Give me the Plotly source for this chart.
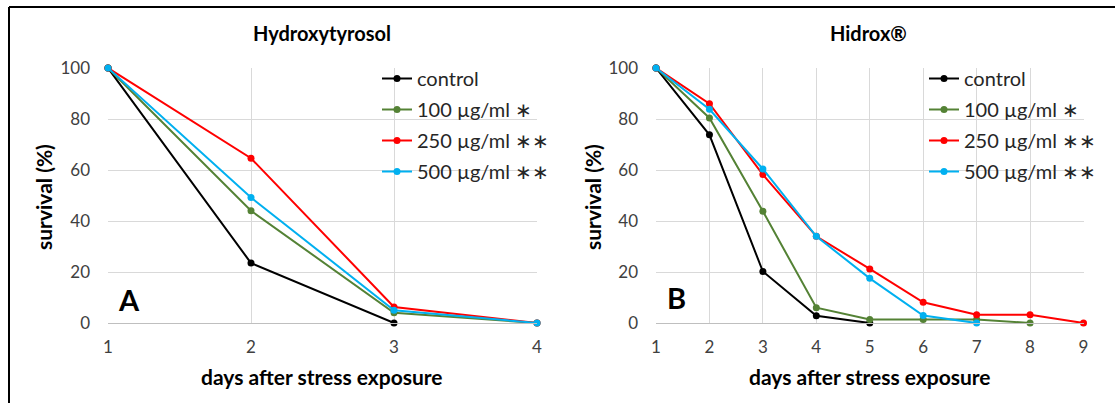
import plotly.graph_objects as go

# ---- data ----
series_names = ["control", "100 µg/ml\u00a0∗", "250 µg/ml\u00a0∗∗", "500 µg/ml\u00a0∗∗"]
series_colors = ["#000000", "#548235", "#ff0000", "#00b0f0"]

# Panel A: Hydroxytyrosol
a_days_control = [1, 2, 3]
a_control = [100, 23.5, 0]
a_days = [1, 2, 3, 4]
a_100 = [100, 44, 4, 0]
a_250 = [100, 64.6, 6.3, 0]
a_500 = [100, 49.2, 5, 0]

# Panel B: Hidrox
b_days_control = [1, 2, 3, 4, 5]
b_control = [100, 73.8, 20.2, 2.8, 0]
b_days_100 = [1, 2, 3, 4, 5, 6, 7, 8]
b_100 = [100, 80.4, 43.8, 6, 1.4, 1.4, 1.4, 0]
b_days_250 = [1, 2, 3, 4, 5, 6, 7, 8, 9]
b_250 = [100, 86, 58.2, 34, 21.2, 8.1, 3.2, 3.2, 0]
b_days_500 = [1, 2, 3, 4, 5, 6, 7]
b_500 = [100, 83.8, 60.4, 34, 17.5, 2.9, 0]

x_ticks_a = [1, 2, 3, 4]
x_ticks_b = [1, 2, 3, 4, 5, 6, 7, 8, 9]
y_ticks = [0, 20, 40, 60, 80, 100]

FONT = "Lato"
W, H = 1115, 403

fig = go.Figure()

panel_a = [(a_days_control, a_control), (a_days, a_100), (a_days, a_250), (a_days, a_500)]
panel_b = [(b_days_control, b_control), (b_days_100, b_100), (b_days_250, b_250), (b_days_500, b_500)]

for i, (xs, ys) in enumerate(panel_a):
    fig.add_trace(go.Scatter(
        x=xs, y=ys, mode="lines+markers", name=series_names[i],
        line=dict(color=series_colors[i], width=2),
        marker=dict(color=series_colors[i], size=7),
        xaxis="x", yaxis="y", legend="legend", legendgroup="a%d" % i,
        cliponaxis=False,
    ))
for i, (xs, ys) in enumerate(panel_b):
    fig.add_trace(go.Scatter(
        x=xs, y=ys, mode="lines+markers", name=series_names[i],
        line=dict(color=series_colors[i], width=2),
        marker=dict(color=series_colors[i], size=7),
        xaxis="x2", yaxis="y2", legend="legend2", legendgroup="b%d" % i,
        cliponaxis=False,
    ))

def px_x(p):
    return p / W

def px_y(p):
    return 1 - p / H

ydom = [px_y(323), px_y(68)]
axis_common = dict(
    showgrid=True, gridcolor="#d9d9d9", gridwidth=1,
    zeroline=False, automargin=False, ticks="",
    tickfont=dict(family=FONT, size=17, color="#404040"),
    fixedrange=True,
)

legend_font = dict(family=FONT, size=20, color="#262626")

fig.update_layout(
    width=W, height=H,
    margin=dict(l=0, r=0, t=0, b=0),
    paper_bgcolor="white", plot_bgcolor="white",
    font=dict(family=FONT),
    xaxis=dict(domain=[px_x(108), px_x(537)], range=[1, 4], tickvals=x_ticks_a,
               showline=True, linecolor="#bfbfbf", linewidth=1, ticklabelstandoff=9,
               anchor="y", **axis_common),
    yaxis=dict(domain=ydom, range=[0, 100], tickvals=y_ticks, showline=False,
               ticklabelstandoff=17, anchor="x", **axis_common),
    xaxis2=dict(domain=[px_x(656), px_x(1083.5)], range=[1, 9], tickvals=x_ticks_b,
                showline=True, linecolor="#bfbfbf", linewidth=1, ticklabelstandoff=9,
                anchor="y2", **axis_common),
    yaxis2=dict(domain=ydom, range=[0, 100], tickvals=y_ticks, showline=False,
                ticklabelstandoff=17, anchor="x2", **axis_common),
    legend=dict(x=px_x(377), y=px_y(59), xanchor="left", yanchor="top",
                bgcolor="rgba(0,0,0,0)", font=legend_font,
                tracegroupgap=2, itemwidth=30),
    legend2=dict(x=px_x(924), y=px_y(59), xanchor="left", yanchor="top",
                 bgcolor="rgba(0,0,0,0)", font=legend_font,
                 tracegroupgap=2, itemwidth=30),
    showlegend=True,
)

ann_font_title = dict(family=FONT, size=20, color="#000000")
ann_font_axis = dict(family=FONT, size=21, color="#000000")
annotations = [
    dict(text="<b>Hydroxytyrosol</b>", x=px_x(322), y=px_y(33), font=ann_font_title),
    dict(text="<b>Hidrox®</b>", x=px_x(868), y=px_y(33), font=ann_font_title),
    dict(text="<b>survival (%)</b>", x=px_x(43), y=px_y(197), textangle=-90, font=ann_font_axis),
    dict(text="<b>survival (%)</b>", x=px_x(592), y=px_y(197), textangle=-90, font=ann_font_axis),
    dict(text="<b>days after stress exposure</b>", x=px_x(322), y=px_y(376), font=ann_font_axis),
    dict(text="<b>days after stress exposure</b>", x=px_x(870), y=px_y(376), font=ann_font_axis),
    dict(text="<b>A</b>", x=px_x(129), y=px_y(299), font=dict(family=FONT, size=29, color="#000000")),
    dict(text="<b>B</b>", x=px_x(676), y=px_y(297), font=dict(family=FONT, size=29, color="#000000")),
]
for a in annotations:
    a.update(xref="paper", yref="paper", showarrow=False, xanchor="center", yanchor="middle")
fig.update_layout(annotations=annotations)

# outer frame (left and top edges)
fig.add_shape(type="line", xref="paper", yref="paper", x0=px_x(9), x1=px_x(9), y0=0, y1=px_y(7),
              line=dict(color="#000000", width=2))
fig.add_shape(type="line", xref="paper", yref="paper", x0=px_x(9), x1=1, y0=px_y(7), y1=px_y(7),
              line=dict(color="#000000", width=2))

fig.write_html("out.html", config={"displayModeBar": False},
               post_script="document.body.style.margin='0';document.body.style.padding='0';")
